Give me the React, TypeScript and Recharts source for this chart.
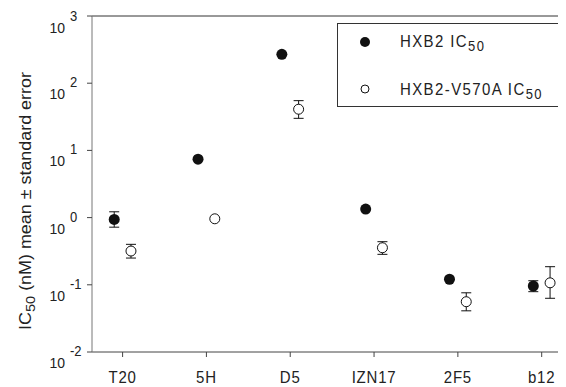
import { ErrorBar, Legend, ReferenceLine, Scatter, ScatterChart, XAxis, YAxis } from "recharts";

const categories = ["T20", "5H", "D5", "IZN17", "2F5", "b12"];
const hxb2Ic50 = [0.94, 7.4, 269, 1.34, 0.121, 0.096];
const hxb2Err = [[0.22, 0.28], null, null, null, null, [0.017, 0.019]];
const v570aIc50 = [0.318, 0.96, 41, 0.356, 0.056, 0.107];
const v570aErr = [[0.068, 0.082], null, [11, 14], [0.072, 0.082], [0.015, 0.02], [0.044, 0.079]];
const yTicks = [0.01, 0.1, 1, 10, 100, 1000];
const xTicks = categories.map((_, i) => i + 1);

const FONT = "Arial, Helvetica, sans-serif";
const INK = "#222";
const SHIFT = 0.1; // side-by-side offset of the two strains

const hxb2Data = categories.map((c, i) => ({ name: c, x: i + 1 - SHIFT, y: hxb2Ic50[i], err: hxb2Err[i] ?? undefined }));
const v570aData = categories.map((c, i) => ({ name: c, x: i + 1 + SHIFT, y: v570aIc50[i], err: v570aErr[i] ?? undefined }));

function XTick({ x, y, payload }: any) {
  return (
    <g transform={`translate(${x},${y + 26}) scale(1,1.05)`}>
      <text x={0} y={0} textAnchor="middle" fontFamily={FONT} fontSize={15} letterSpacing={0.8} fill={INK}>
        {categories[payload.value - 1]}
      </text>
    </g>
  );
}

function YTick({ x, y, payload }: any) {
  const exp = Math.round(Math.log10(payload.value));
  return (
    <g fontFamily={FONT} fill={INK}>
      <g transform={`translate(${x - 22},${y + 16}) scale(1,1.1)`}>
        <text x={0} y={0} textAnchor="end" fontSize={14}>10</text>
      </g>
      <g transform={`translate(${x - 17},${y + 4}) scale(1,1.1)`}>
        <text x={0} y={0} textAnchor="start" fontSize={13}>{exp}</text>
      </g>
    </g>
  );
}

function YTitle() {
  return (
    <g transform="translate(23,193) rotate(-90) scale(1.12,1)">
      <text x={0} y={0} textAnchor="middle" fontFamily={FONT} fontSize={16} fill={INK}>
        <tspan>IC</tspan>
        <tspan dy={4} fontSize={13}>50</tspan>
        <tspan dy={-4}> (nM) mean ± standard error</tspan>
      </text>
    </g>
  );
}

function LegendBox() {
  return (
    <div style={{ width: 229, height: 84, border: "1px solid #333", borderRight: "none", boxSizing: "border-box", background: "#fff" }}>
      <svg width={228} height={82} fontFamily={FONT} fill={INK}>
        <circle cx={27} cy={18} r={5} fill="#111" />
        <g transform="translate(62,23) scale(1,1.1)">
          <text x={0} y={0} fontSize={15} letterSpacing={1.4}>
            <tspan>HXB2 IC</tspan>
            <tspan dy={4} fontSize={13}>50</tspan>
          </text>
        </g>
        <circle cx={27} cy={65} r={4} fill="#fff" stroke="#111" strokeWidth={1} />
        <g transform="translate(62,71) scale(1,1.1)">
          <text x={0} y={0} fontSize={15} letterSpacing={1.4}>
            <tspan>HXB2-V570A IC</tspan>
            <tspan dy={4} fontSize={13}>50</tspan>
          </text>
        </g>
      </svg>
    </div>
  );
}

export default function App() {
  return (
    <ScatterChart width={558} height={379} margin={{ top: 8, right: 0, bottom: 5, left: 14 }} style={{ overflow: "visible" }}>
      <XAxis
        type="number"
        dataKey="x"
        domain={[0.635, 6.29]}
        ticks={xTicks}
        allowDataOverflow
        tick={<XTick />}
        tickSize={5}
        tickMargin={0}
        height={30}
        axisLine={{ stroke: "#444" }}
        tickLine={{ stroke: "#444" }}
      />
      <YAxis
        type="number"
        dataKey="y"
        scale="log"
        domain={[0.01, 1000]}
        ticks={yTicks}
        allowDataOverflow
        tick={<YTick />}
        tickSize={5}
        tickMargin={0}
        width={70}
        axisLine={{ stroke: "#777" }}
        tickLine={{ stroke: "#444" }}
        label={<YTitle />}
      />
      <ReferenceLine y={1000} stroke="#333" />
      <Legend
        layout="vertical"
        align="center"
        verticalAlign="middle"
        wrapperStyle={{ position: "absolute", left: 329, top: 15, width: 229, height: 84 }}
        content={() => <LegendBox />}
      />
      <Scatter
        name="HXB2 IC50"
        data={hxb2Data}
        isAnimationActive={false}
        shape={(p: any) => <circle cx={p.cx} cy={p.cy} r={5.5} fill="#111" />}
      >
        <ErrorBar dataKey="err" direction="y" width={5} stroke="#111" strokeWidth={1} />
      </Scatter>
      <Scatter
        name="HXB2-V570A IC50"
        data={v570aData}
        isAnimationActive={false}
        shape={(p: any) => <circle cx={p.cx} cy={p.cy} r={5} fill="#fff" stroke="#111" strokeWidth={1} />}
      >
        <ErrorBar dataKey="err" direction="y" width={5} stroke="#111" strokeWidth={1} />
      </Scatter>
    </ScatterChart>
  );
}
